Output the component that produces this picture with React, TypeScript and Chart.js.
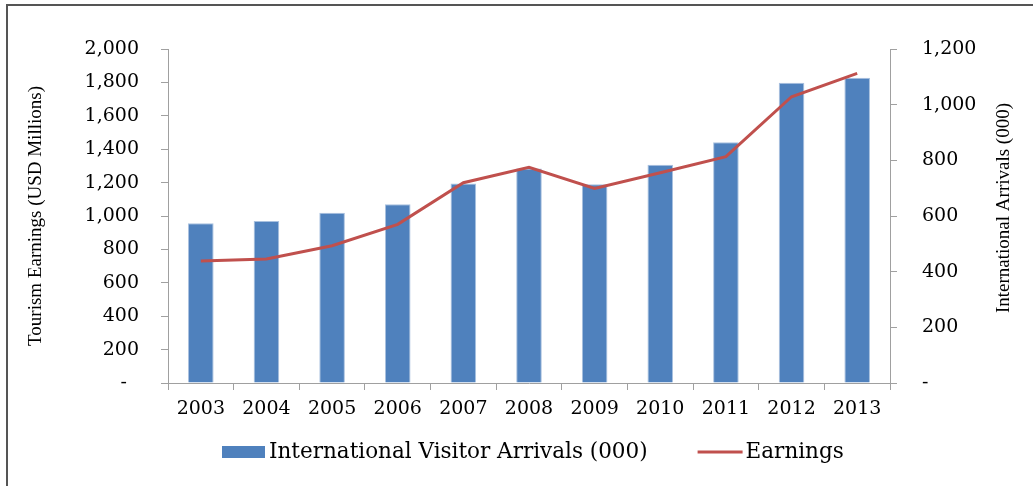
import React, { useEffect, useRef } from 'react';
import { Chart, registerables } from 'chart.js';

Chart.register(...registerables);

// ---- data ----
const years = ['2003', '2004', '2005', '2006', '2007', '2008', '2009', '2010', '2011', '2012', '2013'];
// International visitor arrivals (000) - bars, right axis
const arrivals = [574, 582, 612, 642, 717, 771, 714, 784, 865, 1079, 1097];
// Tourism earnings (USD millions) - line, left axis
const earnings = [731, 743, 822, 950, 1199, 1292, 1165, 1259, 1355, 1714, 1854];

const arrivalsLabel = 'International Visitor Arrivals (000)';
const earningsLabel = 'Earnings';
const leftTitle = 'Tourism Earnings (USD Millions)';
const rightTitle = 'International Arrivals (000)';

const leftRange = { min: 0, max: 2000, step: 200 };
const rightRange = { min: 0, max: 1200, step: 200 };

const BAR_COLOR = '#4F81BD';
const LINE_COLOR = '#C0504D';
const AXIS_COLOR = '#A0A0A0';
const TICK_FONT = { family: 'DejaVu Serif', size: 19 };

const fmt = (v: number) => Number(v).toLocaleString('en-US');

const extrasPlugin = {
  id: 'extras',
  afterDraw(chart: any) {
    const c = chart.ctx as CanvasRenderingContext2D;
    const area = chart.chartArea;
    const ds = chart.data.datasets;
    c.save();
    // legend
    const y = 452;
    c.font = '21.5px "DejaVu Serif"';
    c.textBaseline = 'middle';
    c.textAlign = 'left';
    let x = 222;
    c.fillStyle = ds[0].backgroundColor;
    c.fillRect(x, y - 6, 43, 12);
    c.fillStyle = '#000';
    c.fillText(ds[0].label, x + 47, y);
    x = x + 47 + c.measureText(ds[0].label).width + 50;
    c.strokeStyle = ds[1].borderColor;
    c.lineWidth = 3;
    c.beginPath();
    c.moveTo(x, y);
    c.lineTo(x + 45, y);
    c.stroke();
    c.fillStyle = '#000';
    c.fillText(ds[1].label, x + 48, y);
    // right axis title (reads bottom-to-top)
    c.translate(area.right + 114, (area.top + area.bottom) / 2 - 8);
    c.rotate(-Math.PI / 2);
    c.font = '19px "Liberation Serif"';
    c.textAlign = 'center';
    c.fillText(rightTitle, 0, 0);
    c.restore();
  },
};

export default function App() {
  const ref = useRef<HTMLCanvasElement>(null);

  useEffect(() => {
    if (!ref.current) return;
    const chart = new Chart(ref.current, {
      type: 'bar',
      data: {
        labels: years,
        datasets: [
          {
            type: 'bar',
            label: arrivalsLabel,
            data: arrivals,
            yAxisID: 'y1',
            backgroundColor: BAR_COLOR,
            borderColor: '#A9C1DF',
            borderWidth: 1,
            barPercentage: 0.39,
            categoryPercentage: 1,
            order: 1,
          },
          {
            type: 'line',
            label: earningsLabel,
            data: earnings,
            yAxisID: 'y',
            borderColor: LINE_COLOR,
            backgroundColor: LINE_COLOR,
            borderWidth: 3,
            pointRadius: 0,
            tension: 0,
            fill: false,
            order: 0,
          },
        ],
      },
      options: {
        responsive: false,
        animation: false,
        layout: { padding: { top: 49, left: 0, right: 0, bottom: 0 } },
        plugins: {
          legend: { display: false },
          tooltip: { enabled: false },
          title: { display: false },
        },
        scales: {
          x: {
            type: 'category',
            offset: true,
            grid: {
              offset: true,
              drawOnChartArea: false,
              drawTicks: true,
              tickLength: 7,
              color: AXIS_COLOR,
            },
            border: { color: AXIS_COLOR, width: 1 },
            ticks: { color: '#000', font: TICK_FONT, padding: 8, maxRotation: 0 },
            afterFit: (s: any) => {
              s.height = 486 - 383;
            },
          },
          y: {
            position: 'left',
            min: leftRange.min,
            max: leftRange.max,
            grid: {
              drawOnChartArea: false,
              drawTicks: true,
              tickLength: 7,
              color: AXIS_COLOR,
            },
            border: { color: AXIS_COLOR, width: 1 },
            ticks: {
              stepSize: leftRange.step,
              color: '#000',
              font: TICK_FONT,
              padding: 22,
              callback: (v: any) => (Number(v) === 0 ? '-  ' : fmt(v)),
            },
            title: {
              display: true,
              text: leftTitle,
              color: '#000',
              font: { family: 'Liberation Serif', size: 19 },
              padding: { top: 25, bottom: 0 },
            },
            afterFit: (s: any) => {
              s.width = 168;
            },
          },
          y1: {
            position: 'right',
            min: rightRange.min,
            max: rightRange.max,
            grid: {
              drawOnChartArea: false,
              drawTicks: true,
              tickLength: 7,
              color: AXIS_COLOR,
            },
            border: { color: AXIS_COLOR, width: 1 },
            ticks: {
              stepSize: rightRange.step,
              color: '#000',
              font: TICK_FONT,
              padding: 25,
              callback: (v: any) => (Number(v) === 0 ? '-' : fmt(v)),
            },
            afterFit: (s: any) => {
              s.width = 1033 - 890;
            },
          },
        },
      },
      plugins: [extrasPlugin],
    } as any);
    return () => chart.destroy();
  }, []);

  return (
    <div style={{ position: 'fixed', left: 0, top: 0, width: 1033, height: 486, background: '#fff', overflow: 'hidden' }}>
      <div
        style={{
          position: 'absolute',
          left: 6,
          top: 4,
          width: 1040,
          height: 500,
          borderLeft: '2px solid #555',
          borderTop: '2px solid #555',
        }}
      />
      <canvas ref={ref} width={1033} height={486} style={{ position: 'absolute', left: 0, top: 0 }} />
    </div>
  );
}
